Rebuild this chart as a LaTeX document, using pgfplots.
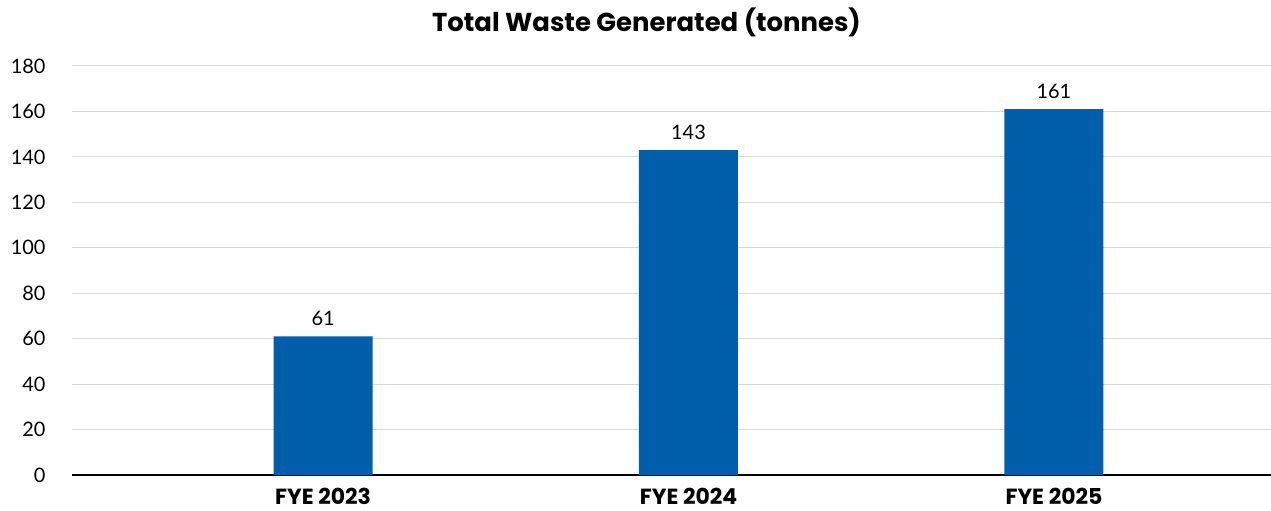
\documentclass[border=0pt]{standalone}
\usepackage{pgfplots}
\pgfplotsset{compat=1.18}
\usepackage{fontspec}
\setmainfont{Lato}
\newfontfamily\headfont{Poppins}
\definecolor{barblue}{HTML}{005EAA}
\definecolor{gridgray}{HTML}{D9D9D9}
\begin{document}
\begin{tikzpicture}
\path[use as bounding box] (-72bp,-36bp) rectangle (1199bp,475bp);
\begin{axis}[
  at={(0,0)}, anchor=south west,
  scale only axis,
  width=1199bp, height=409bp,
  xmin=-0.687, xmax=2.594,
  ymin=0, ymax=180,
  ytick={0,20,...,180},
  xtick={0,1,2},
  xticklabels={FYE 2023,FYE 2024,FYE 2025},
  xticklabel style={font=\headfont\bfseries\fontsize{22}{26}\selectfont, yshift=-10bp},
  yticklabel style={font=\fontsize{20}{23}\selectfont, xshift=-23bp},
  /pgf/number format/assume math mode=true,
  ymajorgrids, grid style={gridgray, line width=1bp},
  axis lines*=left,
  y axis line style={draw=none},
  x axis line style={black, line width=2bp, -},
  major tick length=0pt,
  ybar, bar width=99bp,
  nodes near coords,
  every node near coord/.append style={font=\fontsize{20}{23}\selectfont, black, yshift=7bp},
  title={Total Waste Generated (tonnes)},
  title style={font=\headfont\bfseries\fontsize{26}{30}\selectfont, yshift=20bp, xshift=-25bp},
  clip=false,
]
\addplot[fill=barblue, draw=none] coordinates {(0,61) (1,143) (2,161)};
\end{axis}
\end{tikzpicture}
\end{document}
